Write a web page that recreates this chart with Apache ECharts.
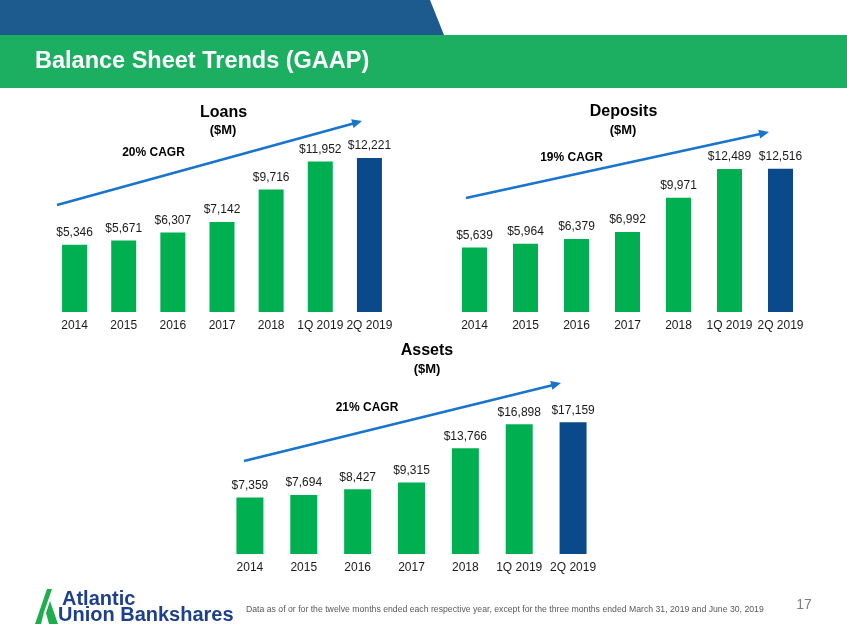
<!DOCTYPE html>
<html>
<head>
<meta charset="utf-8">
<script src="https://cdn.jsdelivr.net/npm/echarts@6/dist/echarts.min.js"></script>
<style>
html,body{margin:0;padding:0;background:#fff;}
#c{width:847px;height:635px;}
</style>
</head>
<body>
<div id="c"></div>
<script>
const categories = ['2014','2015','2016','2017','2018','1Q 2019','2Q 2019'];
const loans = [5346, 5671, 6307, 7142, 9716, 11952, 12221];
const deposits = [5639, 5964, 6379, 6992, 9971, 12489, 12516];
const assets = [7359, 7694, 8427, 9315, 13766, 16898, 17159];

const FONT = '"Liberation Sans", Arial, sans-serif';
const GREEN = '#00AF50';
const NAVY = '#0B4A8A';
const ARROW = '#1874CD';

function fmt(v){ return '$' + v.toLocaleString('en-US'); }
function barData(arr){
  return arr.map((v,i)=>({value:v, itemStyle:{color: i===arr.length-1 ? NAVY : GREEN}}));
}
function arrow(x1,y1,x2,y2){
  const a=Math.atan2(y2-y1,x2-x1), L=10, W=4.5;
  const bx=x2-L*Math.cos(a), by=y2-L*Math.sin(a);
  const px=-Math.sin(a)*W, py=Math.cos(a)*W;
  return [
    {type:'line', shape:{x1:x1,y1:y1,x2:bx+Math.cos(a)*1,y2:by+Math.sin(a)*1}, style:{stroke:ARROW,lineWidth:2.6}},
    {type:'polygon', shape:{points:[[x2,y2],[bx+px,by+py],[bx-px,by-py]]}, style:{fill:ARROW}}
  ];
}
function txt(x,y,t,size,weight,color,align){
  return {type:'text', x:x, y:y, style:{text:t, font:(weight||'normal')+' '+size+'px '+FONT, fill:color||'#000', align:align||'center', verticalAlign:'middle'}};
}

const grids = [
  {left:50, width:344, top:135.6, bottom:323},
  {left:449, width:357, top:151.7, bottom:323},
  {left:223, width:377, top:400.4, bottom:81}
];
const maxes = [14000, 14000, 20000];
const datasets = [loans, deposits, assets];

const chart = echarts.init(document.getElementById('c'), null, {renderer:'canvas'});
chart.setOption({
  animation:false,
  grid: grids,
  xAxis: grids.map((g,i)=>({
    type:'category', gridIndex:i, data:categories,
    axisLine:{show:false}, axisTick:{show:false},
    axisLabel:{color:'#1a1a1a', fontSize:12, fontFamily:FONT, margin:8, interval:0}
  })),
  yAxis: grids.map((g,i)=>({
    type:'value', gridIndex:i, min:0, max:maxes[i], show:false, splitLine:{show:false}
  })),
  series: datasets.map((d,i)=>({
    type:'bar', xAxisIndex:i, yAxisIndex:i, data:barData(d),
    barWidth: i===2 ? 27 : 25,
    label:{show:true, position:'top', distance:6, color:'#1a1a1a', fontSize:12, fontFamily:FONT,
      formatter:p=>fmt(p.value)}
  })),
  graphic: [].concat(
    [
      {type:'polygon', shape:{points:[[0,0],[430,0],[444,35],[0,35]]}, style:{fill:'#1D5B8F'}},
      {type:'rect', shape:{x:0,y:35,width:847,height:53}, style:{fill:'#1CAF62'}},
      {type:'text', x:35, y:62, style:{text:'Balance Sheet Trends (GAAP)', font:'bold 23.5px '+FONT, fill:'#fff', align:'left', verticalAlign:'middle'}},
      txt(223.5,112.5,'Loans',16,'bold'),
      txt(223,130,'($M)',13,'bold'),
      txt(623.5,112,'Deposits',16,'bold'),
      txt(623,130,'($M)',13,'bold'),
      txt(427,351,'Assets',16,'bold'),
      txt(427,369,'($M)',13,'bold'),
      txt(153.5,153,'20% CAGR',12,'bold'),
      txt(571.5,157.5,'19% CAGR',12,'bold'),
      txt(367,408,'21% CAGR',12,'bold'),
      // logo
      {type:'polygon', shape:{points:[[35,624],[47,589],[52,589],[44,612],[41,624]]}, style:{fill:'#1EAE4E'}},
      {type:'polygon', shape:{points:[[46,613],[50,601],[58,624],[49,624]]}, style:{fill:'#1EAE4E'}},
      {type:'text', x:62, y:599.5, style:{text:'Atlantic', font:'bold 20px '+FONT, fill:'#1E3F8C', align:'left', verticalAlign:'middle'}},
      {type:'text', x:58, y:615.5, style:{text:'Union Bankshares', font:'bold 20px '+FONT, fill:'#1E3F8C', align:'left', verticalAlign:'middle'}},
      {type:'text', x:246, y:610, style:{text:'Data as of or for the twelve months ended each respective year, except for the three months ended March 31, 2019 and June 30, 2019', font:'8.7px '+FONT, fill:'#595959', align:'left', verticalAlign:'middle'}},
      txt(804,605,'17',14,'normal','#7F7F7F')
    ],
    arrow(57,205,362,121),
    arrow(466,198,769,132),
    arrow(244,461,561,383)
  )
});
</script>
</body>
</html>
